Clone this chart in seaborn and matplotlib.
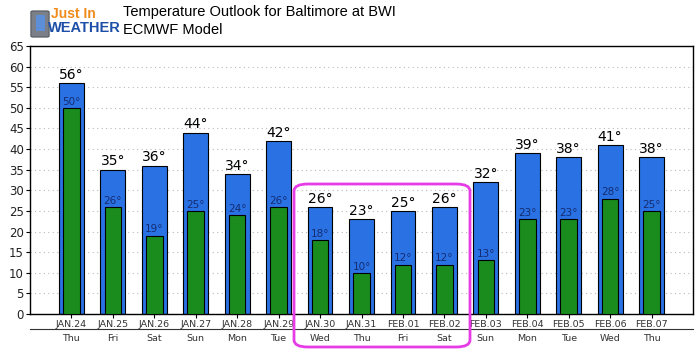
import matplotlib
matplotlib.use("Agg")
import matplotlib.pyplot as plt
import seaborn as sns
from matplotlib.patches import FancyBboxPatch, FancyArrowPatch

dates = ["JAN.24", "JAN.25", "JAN.26", "JAN.27", "JAN.28", "JAN.29", "JAN.30", "JAN.31",
         "FEB.01", "FEB.02", "FEB.03", "FEB.04", "FEB.05", "FEB.06", "FEB.07"]
weekdays = ["Thu", "Fri", "Sat", "Sun", "Mon", "Tue", "Wed", "Thu",
            "Fri", "Sat", "Sun", "Mon", "Tue", "Wed", "Thu"]
highs = [56, 35, 36, 44, 34, 42, 26, 23, 25, 26, 32, 39, 38, 41, 38]
lows = [50, 26, 19, 25, 24, 26, 18, 10, 12, 12, 13, 23, 23, 28, 25]
yticks = list(range(0, 70, 5))

sns.set_theme(style="white")
plt.rcParams['font.family'] = ['DejaVu Sans']

W, H = 700, 350
fig = plt.figure(figsize=(7, 3.5), dpi=100)
ax = fig.add_axes([30 / W, (H - 314) / H, (693 - 30) / W, (314 - 46) / H])

blue = "#2a72e4"
green = "#1a8c1e"
sns.barplot(x=dates, y=highs, color=blue, saturation=1, width=0.6,
            edgecolor="black", linewidth=0.8, ax=ax, zorder=2)
sns.barplot(x=dates, y=lows, color=green, saturation=1, width=0.4,
            edgecolor="black", linewidth=0.8, ax=ax, zorder=3)

for i, (h, l) in enumerate(zip(highs, lows)):
    ax.text(i, h + 0.3, f"{h}°", ha="center", va="bottom", fontsize=10,
            color="black", zorder=5)
    ax.text(i, l + 0.3, f"{l}°", ha="center", va="bottom", fontsize=7.5,
            color="#142c72", zorder=5)

ax.set_xlim(-1, 15)
ax.set_ylim(0, 65)
ax.set_yticks(yticks)
ax.set_ylabel("")
ax.set_xlabel("")
ax.grid(axis="y", color="#b8b8b8", linestyle=(0, (1, 3)), linewidth=0.8, zorder=0)
ax.set_axisbelow(True)
for s in ax.spines.values():
    s.set_color("black")
    s.set_linewidth(1.0)
ax.tick_params(axis="y", labelsize=8.5, colors="black", length=3, width=0.8,
               left=True, pad=1.5, labelcolor="#222222")
ax.tick_params(axis="x", labelsize=6.8, length=3, width=0.8, bottom=True,
               pad=1.5, labelcolor="#333333", color="black")

sec = ax.secondary_xaxis(-0.056)
sec.set_xticks(range(len(weekdays)))
sec.set_xticklabels(weekdays)
sec.tick_params(axis="x", length=0, labelsize=6.8, pad=3.5, labelcolor="#333333")
sec.spines["bottom"].set_color("#333333")
sec.spines["bottom"].set_linewidth(0.8)

# Title
fig.text(123 / W, (H - 12) / H, "Temperature Outlook for Baltimore at BWI",
         fontsize=10.5, family="Liberation Sans", va="center", ha="left", color="black")
fig.text(123 / W, (H - 30) / H, "ECMWF Model",
         fontsize=10.5, family="Liberation Sans", va="center", ha="left", color="black")

# Logo
phone = FancyBboxPatch((33 / W, (H - 36) / H), 14 / W, 24 / H,
                       boxstyle="round,pad=0.003", transform=fig.transFigure,
                       facecolor="#7a7f88", edgecolor="#555a60", linewidth=0.8)
fig.add_artist(phone)
screen = FancyBboxPatch((35.5 / W, (H - 31) / H), 9 / W, 16 / H,
                        boxstyle="square,pad=0", transform=fig.transFigure,
                        facecolor="#5d8fd8", edgecolor="none")
fig.add_artist(screen)
fig.text(51 / W, (H - 14) / H, "Just In", fontsize=10, fontweight="bold",
         family="Liberation Sans", color="#f08a1a", va="center", ha="left")
fig.text(48 / W, (H - 28) / H, "WEATHER", fontsize=10.5, fontweight="bold",
         family="Liberation Sans", color="#1d4fa8", va="center", ha="left")

# Annotations
arr1 = FancyArrowPatch((93, H - 68), (122, H - 154),
                       connectionstyle="arc3,rad=-0.18",
                       arrowstyle="-|>,head_length=9,head_width=6",
                       color="#1515e0", linewidth=3, mutation_scale=1.5)
fig.add_artist(arr1)

arr2 = FancyArrowPatch((291, H - 125), (357, H - 189),
                       connectionstyle="arc3,rad=-0.3",
                       arrowstyle="-|>,head_length=8,head_width=5",
                       color="#f03cf0", linewidth=2, mutation_scale=1.5)
fig.add_artist(arr2)

box = FancyBboxPatch((294 / W, (H - 347) / H), (470 - 294) / W, (347 - 184) / H,
                     boxstyle="round,pad=0,rounding_size=0.02",
                     transform=fig.transFigure, facecolor="none",
                     edgecolor="#e63ce6", linewidth=2)
fig.add_artist(box)

fig.savefig("out.png", dpi=100)
